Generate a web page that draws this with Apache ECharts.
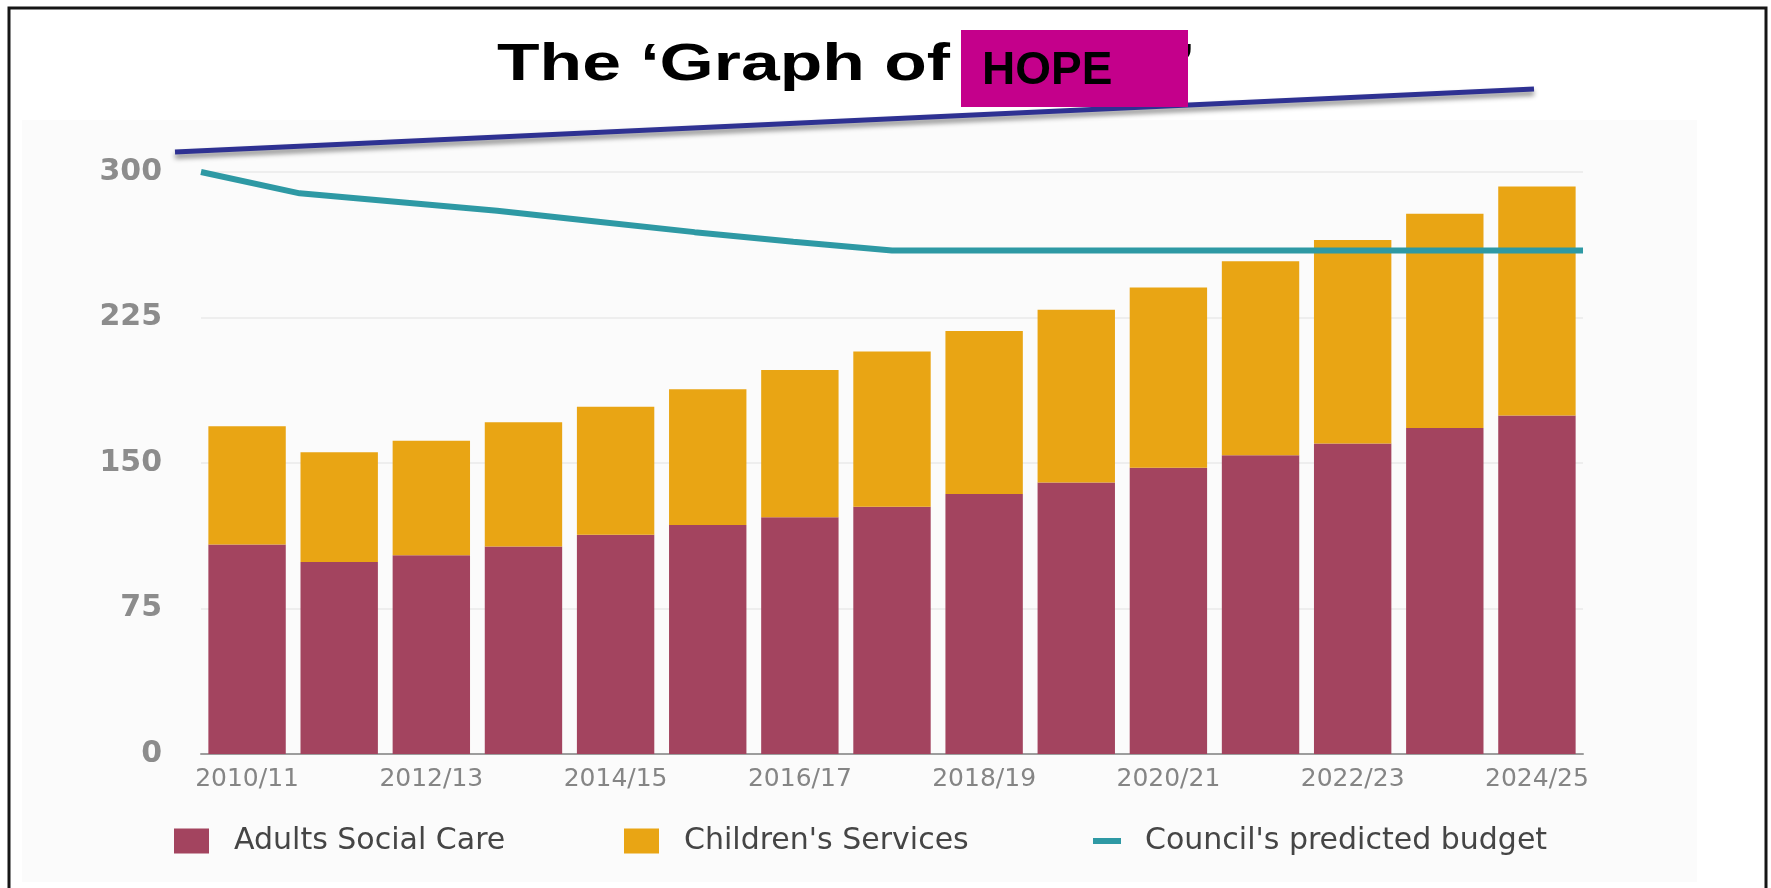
<!DOCTYPE html>
<html>
<head>
<meta charset="utf-8">
<title>The Graph of HOPE</title>
<script src="https://cdn.jsdelivr.net/npm/echarts@6/dist/echarts.min.js"></script>
<style>
  html, body { margin: 0; padding: 0; background: #fff; }
  #chart { width: 1771px; height: 888px; }
</style>
</head>
<body>
<div id="chart"></div>
<script>
// financial years on the x axis
const years = [
  "2010/11", "2011/12", "2012/13", "2013/14", "2014/15", "2015/16", "2016/17", "2017/18",
  "2018/19", "2019/20", "2020/21", "2021/22", "2022/23", "2023/24", "2024/25"
];

// spend
const adultsSocialCare = [108, 99, 102.5, 107, 113, 118, 122, 127.5, 134, 140, 147.5, 154, 160, 168, 174.5];
const childrensServices = [61, 56.5, 59, 64, 66, 70, 76, 80, 84, 89, 93, 100, 105, 110.5, 118];
const predictedBudget = [300, 289, 284.5, 280, 274.5, 269, 264, 259.5, 259.5, 259.5, 259.5, 259.5, 259.5, 259.5, 259.5];

const yTicks = { min: 0, max: 300, interval: 75 };

const seriesNames = ["Adults Social Care", "Children's Services", "Council's predicted budget"];
const colors = ["#a3445f", "#e9a514", "#2e99a4"];

const FONT = "'DejaVu Sans', sans-serif";
const TITLE_FONT = "'Liberation Sans', Arial, sans-serif";

const chart = echarts.init(document.getElementById("chart"), null, { renderer: "canvas" });

const legendBase = {
  top: 821,
  icon: "rect",
  itemWidth: 35,
  itemHeight: 25,
  selectedMode: false,
  textStyle: {
    color: "#454545",
    fontSize: 30,
    fontFamily: FONT,
    padding: [0, 0, 0, 20]
  }
};

const option = {
  animation: false,
  backgroundColor: "#ffffff",
  color: colors,
  grid: {
    left: 201,
    right: 188,
    top: 172,
    bottom: 134,
    containLabel: false,
    outerBoundsMode: "none"
  },
  legend: [
    { ...legendBase, left: 169, data: [seriesNames[0]] },
    { ...legendBase, left: 619, data: [seriesNames[1]] },
    {
      ...legendBase,
      left: 1088,
      itemWidth: 28,
      itemHeight: 6,
      data: [seriesNames[2]],
      textStyle: { ...legendBase.textStyle, padding: [0, 0, 0, 19] }
    }
  ],
  xAxis: [
    {
      type: "category",
      data: years,
      boundaryGap: true,
      axisTick: { show: false },
      axisLine: { lineStyle: { color: "#9d9d9d", width: 2 } },
      axisLabel: {
        interval: 1,
        margin: 13,
        color: "#858585",
        fontSize: 25,
        fontFamily: FONT
      }
    },
    {
      // the budget line runs edge to edge of the plot
      type: "category",
      data: years,
      boundaryGap: false,
      show: false
    }
  ],
  yAxis: {
    type: "value",
    min: yTicks.min,
    max: yTicks.max,
    interval: yTicks.interval,
    axisLine: { show: false },
    axisTick: { show: false },
    splitLine: { lineStyle: { color: "#eeeeee", width: 2 } },
    axisLabel: {
      margin: 39,
      color: "#8c8c8c",
      fontSize: 30,
      fontWeight: "bold",
      fontFamily: FONT
    }
  },
  series: [
    {
      name: seriesNames[0],
      type: "bar",
      stack: "spend",
      barCategoryGap: "16%",
      data: adultsSocialCare
    },
    {
      name: seriesNames[1],
      type: "bar",
      stack: "spend",
      barCategoryGap: "16%",
      data: childrensServices
    },
    {
      name: seriesNames[2],
      type: "line",
      xAxisIndex: 1,
      symbol: "none",
      z: 5,
      lineStyle: { width: 6, color: colors[2] },
      data: predictedBudget
    }
  ],
  graphic: [
    // pale panel of the pasted chart
    {
      type: "rect",
      z: -1,
      silent: true,
      shape: { x: 22, y: 120, width: 1675, height: 762 },
      style: { fill: "#fbfbfb" }
    },
    // slide frame
    {
      type: "rect",
      z: 20,
      silent: true,
      shape: { x: 9, y: 8, width: 1757, height: 900 },
      style: { fill: null, stroke: "#161616", lineWidth: 3 }
    },
    {
      type: "text",
      z: 20,
      x: 497,
      y: 66,
      scaleX: 1.34,
      style: {
        text: "The \u2018Graph of",
        fill: "#000",
        font: "bold 52px " + TITLE_FONT,
        verticalAlign: "middle"
      }
    },
    {
      type: "text",
      z: 20,
      x: 1176,
      y: 66,
      scaleX: 1.34,
      style: {
        text: "\u2019",
        fill: "#000",
        font: "bold 52px " + TITLE_FONT,
        verticalAlign: "middle"
      }
    },
    // the hand drawn "hope" line
    {
      type: "line",
      z: 21,
      silent: true,
      shape: { x1: 175, y1: 152, x2: 1534, y2: 89 },
      style: {
        stroke: "#2e3192",
        lineWidth: 5,
        shadowColor: "rgba(0,0,0,0.45)",
        shadowBlur: 5,
        shadowOffsetY: 4
      }
    },
    {
      type: "rect",
      z: 22,
      silent: true,
      shape: { x: 961, y: 30, width: 227, height: 77 },
      style: { fill: "#c4008b" }
    },
    {
      type: "text",
      z: 23,
      x: 982,
      y: 71,
      style: {
        text: "HOPE",
        fill: "#000",
        font: "bold 46px " + TITLE_FONT,
        verticalAlign: "middle"
      }
    }
  ]
};

chart.setOption(option);
</script>
</body>
</html>
